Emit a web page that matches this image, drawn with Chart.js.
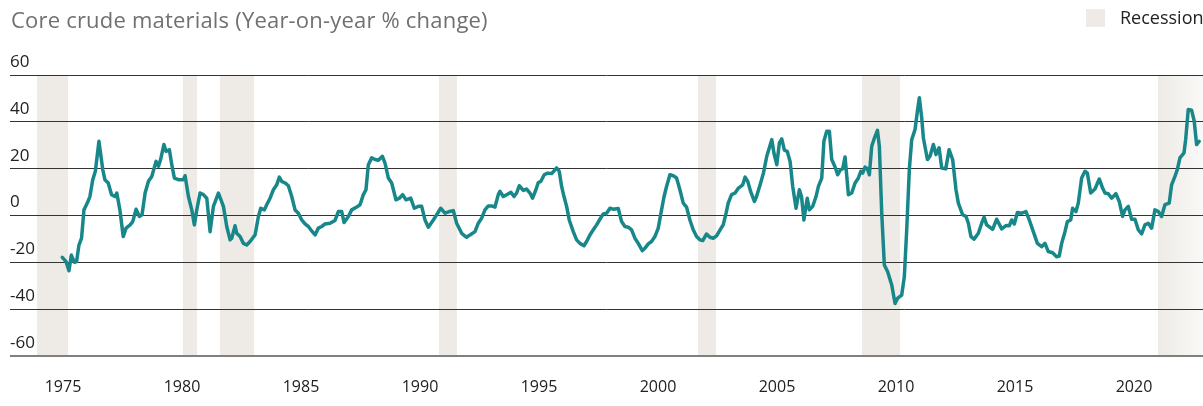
<!DOCTYPE html>
<html>
<head>
<meta charset="utf-8">
<script src="https://cdn.jsdelivr.net/npm/chart.js@4"></script>
<style>
  body { margin: 0; background: #fff; }
  .wrap { position: relative; width: 1203px; height: 406px; overflow: hidden; }
  .title { position: absolute; left: 11px; top: 8px; font: 22px/1 'Open Sans', sans-serif; letter-spacing: 0.2px; color: #707070; white-space: nowrap; }
  .legend { position: absolute; left: 1086px; top: 9px; white-space: nowrap; }
  .legend span.box { position: absolute; left: 0; top: 0; width: 19px; height: 18px; background: #eeebe6; }
  .legend span.lbl { position: absolute; left: 34px; top: -1px; font: 18px/1 'Open Sans', sans-serif; color: #222; }
  canvas { position: absolute; left: 0; top: 0; }
</style>
</head>
<body>
<div class="wrap">
  <canvas id="chart"></canvas>
  <div class="title">Core crude materials (Year-on-year % change)</div>
  <div class="legend"><span class="box"></span><span class="lbl">Recession</span></div>
</div>
<script>
// Core crude materials, year-on-year % change
const years = [
  1974.97, 1975.13, 1975.25, 1975.35, 1975.48, 1975.57, 1975.67, 1975.78, 1975.88, 1976.02,
  1976.13, 1976.25, 1976.36, 1976.51, 1976.67, 1976.76, 1976.90, 1977.04, 1977.18, 1977.26,
  1977.39, 1977.53, 1977.65, 1977.82, 1977.93, 1978.07, 1978.21, 1978.32, 1978.45, 1978.59,
  1978.73, 1978.91, 1979.01, 1979.10, 1979.24, 1979.33, 1979.47, 1979.57, 1979.68, 1979.85,
  1980.06, 1980.13, 1980.27, 1980.41, 1980.52, 1980.62, 1980.76, 1980.90, 1981.04, 1981.18,
  1981.32, 1981.53, 1981.74, 1981.88, 1982.02, 1982.09, 1982.23, 1982.30, 1982.44, 1982.58,
  1982.72, 1982.86, 1983.07, 1983.21, 1983.31, 1983.46, 1983.56, 1983.70, 1983.84, 1983.98,
  1984.09, 1984.19, 1984.33, 1984.47, 1984.61, 1984.75, 1984.89, 1985.03, 1985.17, 1985.31,
  1985.45, 1985.59, 1985.73, 1985.87, 1986.01, 1986.22, 1986.43, 1986.57, 1986.71, 1986.81,
  1986.99, 1987.13, 1987.34, 1987.48, 1987.62, 1987.73, 1987.83, 1987.97, 1988.11, 1988.25,
  1988.42, 1988.53, 1988.67, 1988.81, 1988.99, 1989.13, 1989.27, 1989.41, 1989.61, 1989.76,
  1989.93, 1990.07, 1990.21, 1990.35, 1990.56, 1990.70, 1990.87, 1991.05, 1991.23, 1991.40,
  1991.54, 1991.75, 1991.96, 1992.10, 1992.31, 1992.45, 1992.59, 1992.73, 1992.87, 1993.01,
  1993.15, 1993.29, 1993.36, 1993.50, 1993.64, 1993.82, 1993.95, 1994.06, 1994.17, 1994.34,
  1994.48, 1994.62, 1994.73, 1994.87, 1994.97, 1995.08, 1995.22, 1995.36, 1995.53, 1995.74,
  1995.85, 1995.95, 1996.05, 1996.16, 1996.27, 1996.44, 1996.58, 1996.72, 1996.89, 1997.00,
  1997.14, 1997.28, 1997.42, 1997.56, 1997.70, 1997.84, 1997.98, 1998.12, 1998.33, 1998.47,
  1998.61, 1998.75, 1998.89, 1999.03, 1999.17, 1999.34, 1999.45, 1999.59, 1999.73, 1999.87,
  2000.01, 2000.15, 2000.25, 2000.36, 2000.50, 2000.64, 2000.78, 2000.92, 2001.06, 2001.20,
  2001.34, 2001.48, 2001.62, 2001.76, 2001.88, 2002.04, 2002.18, 2002.32, 2002.46, 2002.61,
  2002.74, 2002.86, 2002.95, 2003.09, 2003.24, 2003.38, 2003.56, 2003.66, 2003.77, 2003.89,
  2004.05, 2004.14, 2004.29, 2004.43, 2004.57, 2004.78, 2004.87, 2004.99, 2005.10, 2005.20,
  2005.31, 2005.43, 2005.55, 2005.66, 2005.80, 2005.94, 2006.03, 2006.13, 2006.27, 2006.36,
  2006.50, 2006.64, 2006.74, 2006.88, 2006.97, 2007.09, 2007.20, 2007.30, 2007.44, 2007.55,
  2007.67, 2007.76, 2007.86, 2008.00, 2008.14, 2008.28, 2008.42, 2008.52, 2008.60, 2008.70,
  2008.80, 2008.88, 2008.98, 2009.08, 2009.22, 2009.30, 2009.40, 2009.51, 2009.65, 2009.82,
  2009.96, 2010.06, 2010.24, 2010.35, 2010.45, 2010.56, 2010.66, 2010.80, 2010.90, 2010.98,
  2011.08, 2011.15, 2011.32, 2011.43, 2011.57, 2011.68, 2011.81, 2011.92, 2012.09, 2012.23,
  2012.38, 2012.52, 2012.62, 2012.80, 2012.94, 2013.04, 2013.15, 2013.28, 2013.46, 2013.60,
  2013.70, 2013.81, 2014.06, 2014.23, 2014.44, 2014.62, 2014.76, 2014.86, 2014.97, 2015.10,
  2015.28, 2015.46, 2015.60, 2015.77, 2015.94, 2016.12, 2016.26, 2016.40, 2016.58, 2016.75,
  2016.86, 2016.96, 2017.10, 2017.20, 2017.34, 2017.42, 2017.56, 2017.66, 2017.80, 2017.94,
  2018.04, 2018.18, 2018.36, 2018.54, 2018.68, 2018.78, 2018.92, 2019.06, 2019.24, 2019.38,
  2019.52, 2019.62, 2019.76, 2019.90, 2020.04, 2020.18, 2020.32, 2020.46, 2020.60, 2020.74,
  2020.88, 2021.02, 2021.16, 2021.30, 2021.48, 2021.58, 2021.72, 2021.82, 2021.93, 2022.10,
  2022.17, 2022.28, 2022.42, 2022.53, 2022.63, 2022.74
];
const changes = [
  -17.9, -19.7, -23.6, -16.9, -20, -19.7, -12.6, -9.7, 2.4, 5.3,
  8.1, 15.3, 18.9, 31.7, 19.6, 15.3, 13.9, 8.9, 8.1, 9.6,
  2.4, -9, -5.4, -4, -2.6, 2.7, -0.4, 0.3, 9.6, 14.6,
  16.7, 23.1, 21, 23.9, 30.3, 27.4, 28.1, 21.7, 16, 15.3,
  15.3, 17, 8.1, 2.4, -4, 2.4, 9.6, 8.9, 7.4, -6.9,
  3.9, 9.6, 3.9, -4.7, -10.4, -9.7, -4.4, -7.6, -9, -11.9,
  -12.6, -11.1, -8.3, -0.4, 3.1, 2.4, 4.6, 7.4, 11, 13.1,
  16.4, 14.6, 13.9, 12.7, 8.1, 2.4, 1, -1.9, -3.6, -4.7,
  -6.6, -8.3, -5.4, -4.7, -3.6, -3.3, -2.1, 1.7, 1.7, -3,
  -0.4, 2.4, 3.6, 4.6, 8.9, 11, 21.7, 24.6, 23.9, 23.6,
  25.3, 22.4, 16, 13.9, 6.7, 7.4, 8.9, 6.7, 7.4, 3.1,
  3.9, 3.9, -1.9, -5, -1.9, 0.3, 3.1, 1, 1.7, 2.1,
  -3.3, -7.6, -9.3, -8.3, -6.9, -3.3, -1.1, 2.4, 4.1, 4.1,
  3.6, 8.9, 10.3, 8.1, 8.9, 9.9, 8.1, 9.6, 12.7, 10.7,
  11.3, 9.6, 7.4, 11, 14.1, 14.6, 17.4, 18.1, 17.9, 20.3,
  18.9, 12.4, 8.1, 3.9, -1.9, -6.9, -10.4, -11.9, -12.9, -11.1,
  -8.3, -6.1, -4, -1.6, 0.7, 1, 3.1, 2.7, 3, -2.6,
  -4.7, -5, -6.1, -9.7, -11.9, -15, -14, -12.1, -11.1, -9,
  -5.4, 2.4, 7.9, 12.4, 17.4, 17, 16, 11, 5.3, 3.6,
  -1.9, -6.1, -9, -10.4, -10.7, -7.9, -9.3, -9.7, -8.7, -6.1,
  -4, 1, 5.3, 8.9, 9.6, 11.7, 13.1, 16.4, 14.6, 10.3,
  6, 8.1, 13.1, 18.1, 25.3, 32.4, 26.7, 21.7, 31, 32.7,
  27.9, 27.4, 23.1, 12.4, 3.1, 11, 8.1, -1.9, 7.4, 2.4,
  3.9, 8.1, 12.4, 16, 31.7, 36, 36, 23.9, 20.7, 17.4,
  19.6, 19.9, 25, 8.9, 9.6, 13.9, 16, 18.9, 18.1, 20.7,
  19.9, 17.4, 29.6, 32.7, 36.4, 29.6, 1, -21.1, -24, -29.7,
  -37.6, -35.4, -34, -26.1, -6.1, 19.6, 32.4, 36.7, 44.6, 50.3,
  41.7, 33.1, 23.9, 25.3, 30.3, 26, 28.9, 20.3, 19.9, 28.1,
  23.9, 11, 5.3, 0.3, -0.4, -3.3, -9, -10.1, -7.6, -3.3,
  -0.7, -4, -5.9, -1.6, -5.7, -4.3, -4.4, -1.9, -3.6, 1.3,
  1, 1.7, -1.9, -6.9, -11.9, -13.3, -11.9, -15.4, -15.9, -17.6,
  -17.3, -11.9, -6.9, -2.6, -1.9, 3.1, 1.7, 5.3, 16, 18.9,
  18.1, 9.6, 11.3, 15.6, 11.7, 9.6, 9.3, 7.4, 9.3, 6,
  -0.4, 2.4, 3.9, -1.6, -1.6, -6.1, -7.9, -4, -3.3, -5.4,
  2.4, 1.7, -0.4, 4.6, 5.3, 13.1, 16.7, 19.6, 24.6, 26.7,
  32.4, 45.3, 45, 40.3, 30.3, 31.7
];

// Recession periods (shaded bands)
const recessionStart = [1973.91, 1980.04, 1981.60, 1990.80, 2001.68, 2008.57, 2021.01];
const recessionEnd   = [1975.21, 1980.63, 1983.03, 1991.55, 2002.44, 2010.17, 2023.00];

// Axis ticks
const xTickYears = [1975, 1980, 1985, 1990, 1995, 2000, 2005, 2010, 2015, 2020];
const yTickValues = [-60, -40, -20, 0, 20, 40, 60];

const points = years.map((yr, i) => ({ x: yr, y: changes[i] }));

// draws the recession bands behind the grid and the line
const recessionBands = {
    id: 'recessionBands',
    beforeDraw(chart) {
        const { ctx, chartArea, scales } = chart;
        const xs = scales.x;
        ctx.save();
        recessionStart.forEach((start, i) => {
            const x0 = Math.max(xs.getPixelForValue(start), chartArea.left);
            const x1 = Math.min(xs.getPixelForValue(recessionEnd[i]), chartArea.right);
            if (i === recessionStart.length - 1) {
                const grad = ctx.createLinearGradient(x0, 0, x1, 0);
                grad.addColorStop(0, '#eeebe6');
                grad.addColorStop(1, '#faf9f7');
                ctx.fillStyle = grad;
            } else {
                ctx.fillStyle = '#eeebe6';
            }
            ctx.fillRect(x0, chartArea.top, x1 - x0, chartArea.bottom - chartArea.top);
        });
        ctx.restore();
    }
};

new Chart(document.getElementById('chart'), {
    type: 'line',
    data: {
        datasets: [{
            label: 'Core crude materials',
            data: points,
            borderColor: '#17878a',
            borderWidth: 3.5,
            pointRadius: 0,
            tension: 0,
            borderJoinStyle: 'round',
            borderCapStyle: 'round',
            fill: false
        }]
    },
    options: {
        responsive: true,
        maintainAspectRatio: false,
        animation: false,
        layout: { padding: { top: 75, left: 10, right: 0, bottom: 9 } },
        scales: {
            x: {
                type: 'linear',
                min: 1972.773,
                max: 2022.899,
                afterBuildTicks: axis => { axis.ticks = xTickYears.map(v => ({ value: v })); },
                afterFit: axis => { axis.height = 41; },
                grid: { display: false, drawTicks: false },
                border: { display: false },
                ticks: {
                    padding: 22,
                    maxRotation: 0,
                    autoSkip: false,
                    color: '#222',
                    font: { family: "'Open Sans', sans-serif", size: 16 },
                    callback: v => String(v)
                }
            },
            y: {
                min: -60,
                max: 60,
                afterBuildTicks: axis => { axis.ticks = yTickValues.map(v => ({ value: v })); },
                grid: {
                    drawTicks: false,
                    color: ctx => ctx.tick && ctx.tick.value === -60 ? '#808080' : '#333',
                    lineWidth: ctx => ctx.tick && ctx.tick.value === -60 ? 2 : 1
                },
                border: { display: false },
                ticks: {
                    mirror: true,
                    padding: 0,
                    labelOffset: -13,
                    color: '#222',
                    font: { family: "'Open Sans', sans-serif", size: 17 },
                    callback: v => String(v)
                }
            }
        },
        plugins: {
            legend: { display: false },
            tooltip: { enabled: false }
        }
    },
    plugins: [recessionBands]
});
</script>
</body>
</html>
